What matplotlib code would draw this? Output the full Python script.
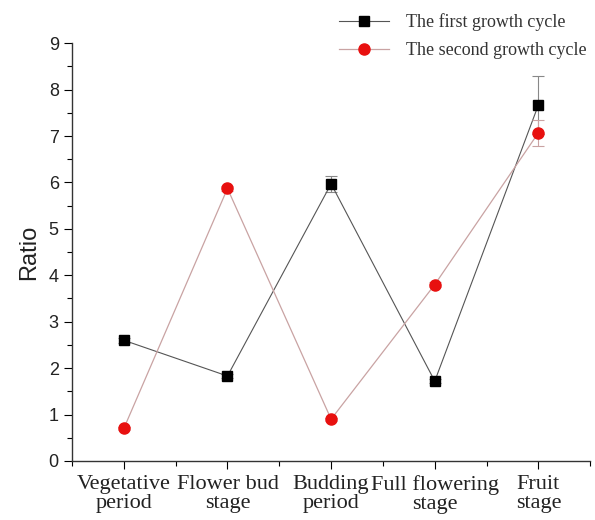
import numpy as np
import matplotlib.pyplot as plt
from matplotlib.lines import Line2D
from matplotlib.ticker import MultipleLocator, AutoMinorLocator

stages = ["Vegetative\nperiod", "Flower bud\nstage", "Budding\nperiod",
          "Full flowering\nstage", "Fruit\nstage"]
first_cycle = [2.6, 1.83, 5.97, 1.72, 7.67]
first_err = [0.05, 0.05, 0.17, 0.05, 0.63]
second_cycle = [0.7, 5.87, 0.9, 3.8, 7.07]
second_err = [0.03, 0.05, 0.03, 0.05, 0.28]

x = np.arange(len(stages))

fig = plt.figure(figsize=(5.95, 5.2), dpi=100)
ax = fig.add_axes([0.121, 0.1135, 0.871, 0.8035])

ax.errorbar(x, first_cycle, yerr=first_err, color="#555555", lw=0.8,
            ecolor="#888888", elinewidth=0.8, capsize=4, capthick=0.8,
            marker="s", ms=7, mfc="black", mec="black", zorder=3)
ax.errorbar(x, second_cycle, yerr=second_err, color="#c9a3a3", lw=0.9,
            ecolor="#c9a3a3", elinewidth=0.8, capsize=4, capthick=0.8,
            marker="o", ms=8, mfc="#e8100f", mec="#e8100f", zorder=4)

ax.set_xlim(-0.5, 4.5)
ax.set_ylim(0, 9)
ax.set_xticks(x)
ax.set_xticklabels(stages, family="Liberation Serif", fontsize=16,
                   color="#222222", linespacing=1.0)
ax.xaxis.set_minor_locator(MultipleLocator(0.5))
ax.yaxis.set_major_locator(MultipleLocator(1))
ax.yaxis.set_minor_locator(AutoMinorLocator(2))
ax.tick_params(axis="y", labelsize=13, labelcolor="#222222", length=6, width=0.8)
ax.tick_params(axis="x", length=6, width=0.8, pad=4)
ax.tick_params(which="minor", length=3.5, width=0.8)
for lab in ax.get_yticklabels():
    lab.set_family("Liberation Sans")

ax.set_ylabel("Ratio", family="Liberation Sans", fontsize=17, color="#222222", labelpad=6)

for side in ("top", "right"):
    ax.spines[side].set_visible(False)
for side in ("left", "bottom"):
    ax.spines[side].set_linewidth(1.0)
    ax.spines[side].set_color("#333333")

handles = [
    Line2D([], [], color="#555555", lw=0.8, marker="s", ms=7, mfc="black", mec="black"),
    Line2D([], [], color="#c9a3a3", lw=0.9, marker="o", ms=8, mfc="#e8100f", mec="#e8100f"),
]
fig.legend(handles, ["The first growth cycle", "The second growth cycle"],
           loc="upper left", bbox_to_anchor=(0.542, 1.006), frameon=False,
           prop={"family": "Liberation Serif", "size": 13}, labelcolor="#333333",
           handlelength=2.8, handletextpad=0.9, labelspacing=0.6)

fig.savefig("out.png", dpi=100)
